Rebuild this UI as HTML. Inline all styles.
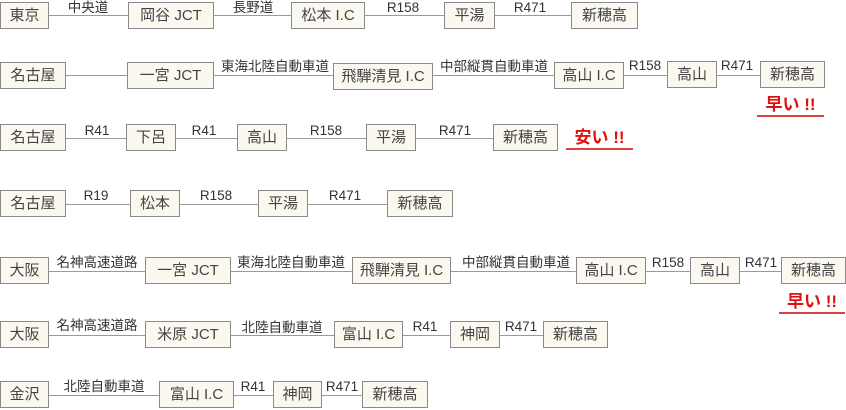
<!DOCTYPE html>
<html><head><meta charset="utf-8"><style>
body{margin:0;width:846px;height:410px;background:#fff;position:relative;overflow:hidden;font-family:"Liberation Sans","Noto Sans CJK JP",sans-serif;color:#333}
.b{position:absolute;height:27px;line-height:25px;border:1.5px solid #8a8a8a;background:#fbf8ef;box-sizing:border-box;text-align:center;font-size:15px;color:#444;white-space:nowrap}
.l{position:absolute;height:1px;background:#9a9a9a}
.t{position:absolute;font-size:13.5px;line-height:14px;white-space:nowrap;transform:translateX(-50%);color:#333}
.r{position:absolute;color:#e01010;font-size:17px;font-weight:bold;white-space:nowrap;border-bottom:2.5px solid #e04040;line-height:20px;text-align:center}
</style></head><body>
<!-- row1 c=15 -->
<div class="l" style="left:0;width:636px;top:15px"></div>
<div class="b" style="left:0;top:2px;width:49px">東京</div>
<div class="b" style="left:128px;top:2px;width:86px">岡谷 JCT</div>
<div class="b" style="left:291px;top:2px;width:74px">松本 I.C</div>
<div class="b" style="left:444px;top:2px;width:51px">平湯</div>
<div class="b" style="left:571px;top:2px;width:67px">新穂高</div>
<div class="t" style="left:88px;top:1px">中央道</div>
<div class="t" style="left:253px;top:1px">長野道</div>
<div class="t" style="left:403px;top:1px">R158</div>
<div class="t" style="left:530px;top:1px">R471</div>
<!-- row2 c=75 -->
<div class="l" style="left:0;width:824px;top:75px"></div>
<div class="b" style="left:0;top:62px;width:66px">名古屋</div>
<div class="b" style="left:127px;top:62px;width:87px">一宮 JCT</div>
<div class="b" style="left:333px;top:63px;width:100px">飛騨清見 I.C</div>
<div class="b" style="left:554px;top:62px;width:70px">高山 I.C</div>
<div class="b" style="left:667px;top:61px;width:50px">高山</div>
<div class="b" style="left:760px;top:61px;width:65px">新穂高</div>
<div class="t" style="left:275px;top:60px">東海北陸自動車道</div>
<div class="t" style="left:494px;top:60px">中部縦貫自動車道</div>
<div class="t" style="left:645px;top:59px">R158</div>
<div class="t" style="left:737px;top:59px">R471</div>
<div class="r" style="left:757px;top:95px;width:67px">早い !!</div>
<!-- row3 c=138 -->
<div class="l" style="left:0;width:557px;top:138px"></div>
<div class="b" style="left:0;top:124px;width:66px">名古屋</div>
<div class="b" style="left:126px;top:124px;width:50px">下呂</div>
<div class="b" style="left:237px;top:124px;width:50px">高山</div>
<div class="b" style="left:366px;top:124px;width:50px">平湯</div>
<div class="b" style="left:493px;top:124px;width:65px">新穂高</div>
<div class="t" style="left:97px;top:124px">R41</div>
<div class="t" style="left:204px;top:124px">R41</div>
<div class="t" style="left:326px;top:124px">R158</div>
<div class="t" style="left:455px;top:124px">R471</div>
<div class="r" style="left:566px;top:128px;width:67px">安い !!</div>
<!-- row4 c=204 -->
<div class="l" style="left:0;width:452px;top:204px"></div>
<div class="b" style="left:0;top:190px;width:66px">名古屋</div>
<div class="b" style="left:130px;top:190px;width:50px">松本</div>
<div class="b" style="left:258px;top:190px;width:50px">平湯</div>
<div class="b" style="left:387px;top:190px;width:66px">新穂高</div>
<div class="t" style="left:96px;top:189px">R19</div>
<div class="t" style="left:216px;top:189px">R158</div>
<div class="t" style="left:345px;top:189px">R471</div>
<!-- row5 c=271 -->
<div class="l" style="left:0;width:846px;top:271px"></div>
<div class="b" style="left:0;top:257px;width:49px">大阪</div>
<div class="b" style="left:145px;top:257px;width:86px">一宮 JCT</div>
<div class="b" style="left:352px;top:257px;width:99px">飛騨清見 I.C</div>
<div class="b" style="left:576px;top:257px;width:70px">高山 I.C</div>
<div class="b" style="left:690px;top:257px;width:50px">高山</div>
<div class="b" style="left:781px;top:257px;width:65px">新穂高</div>
<div class="t" style="left:97px;top:256px">名神高速道路</div>
<div class="t" style="left:291px;top:256px">東海北陸自動車道</div>
<div class="t" style="left:516px;top:256px">中部縦貫自動車道</div>
<div class="t" style="left:668px;top:256px">R158</div>
<div class="t" style="left:761px;top:256px">R471</div>
<div class="r" style="left:779px;top:292px;width:66px">早い !!</div>
<!-- row6 c=335 -->
<div class="l" style="left:0;width:607px;top:335px"></div>
<div class="b" style="left:0;top:321px;width:49px">大阪</div>
<div class="b" style="left:145px;top:321px;width:86px">米原 JCT</div>
<div class="b" style="left:334px;top:321px;width:69px">富山 I.C</div>
<div class="b" style="left:450px;top:321px;width:50px">神岡</div>
<div class="b" style="left:543px;top:321px;width:65px">新穂高</div>
<div class="t" style="left:97px;top:319px">名神高速道路</div>
<div class="t" style="left:282px;top:321px">北陸自動車道</div>
<div class="t" style="left:425px;top:320px">R41</div>
<div class="t" style="left:521px;top:320px">R471</div>
<!-- row7 c=395 -->
<div class="l" style="left:0;width:427px;top:395px"></div>
<div class="b" style="left:0;top:381px;width:49px">金沢</div>
<div class="b" style="left:159px;top:381px;width:75px">富山 I.C</div>
<div class="b" style="left:273px;top:381px;width:49px">神岡</div>
<div class="b" style="left:362px;top:381px;width:66px">新穂高</div>
<div class="t" style="left:104px;top:380px">北陸自動車道</div>
<div class="t" style="left:253px;top:380px">R41</div>
<div class="t" style="left:342px;top:380px">R471</div>
</body></html>
